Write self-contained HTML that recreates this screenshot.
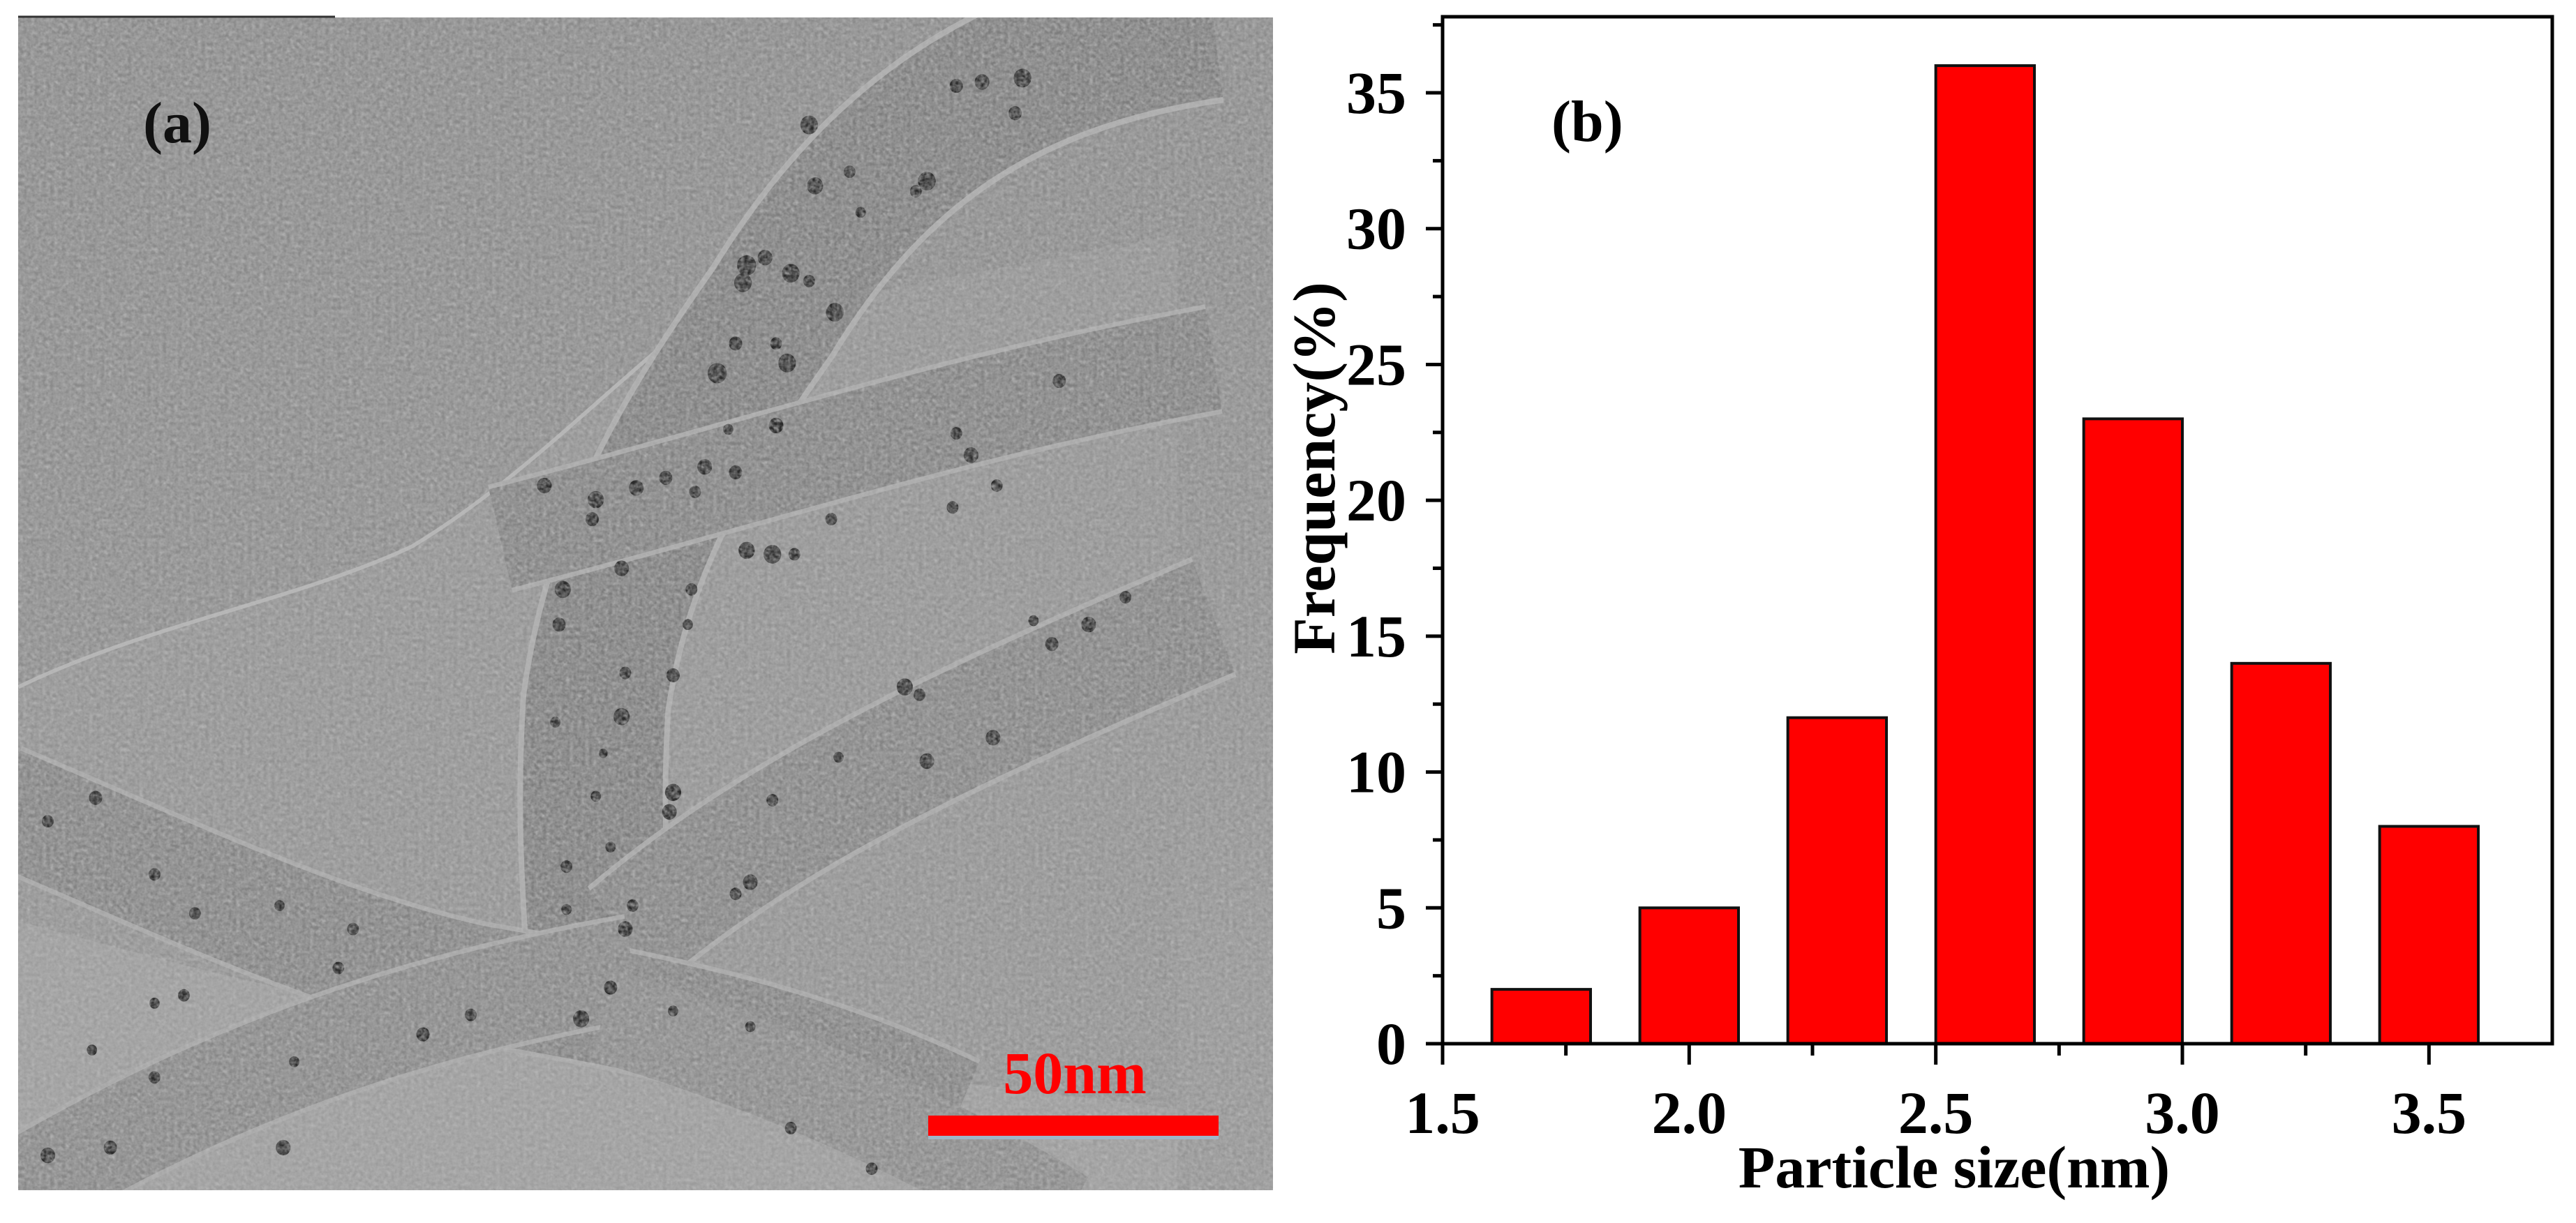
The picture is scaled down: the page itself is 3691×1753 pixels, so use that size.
<!DOCTYPE html>
<html><head><meta charset="utf-8"><style>
html,body{margin:0;padding:0;background:#fff;}
svg{display:block;font-family:"Liberation Serif",serif;}
</style></head><body>
<svg id="fig" width="3691" height="1753" viewBox="0 0 3691 1753" xmlns="http://www.w3.org/2000/svg">
<defs>
<clipPath id="panelclip"><rect x="26" y="25" width="1798" height="1681"/></clipPath>
<filter id="noise" x="0" y="0" width="100%" height="100%">
<feTurbulence type="fractalNoise" baseFrequency="0.18" numOctaves="2" seed="3"/>
<feColorMatrix type="matrix" values="0 0 0 0 0.5  0 0 0 0 0.5  0 0 0 0 0.5  0.6 0.6 0.6 0 -0.6"/>
</filter>
<linearGradient id="bg" x1="0" y1="0" x2="0.3" y2="1">
<stop offset="0" stop-color="#888"/><stop offset="0.5" stop-color="#8c8c8c"/><stop offset="1" stop-color="#959595"/>
</linearGradient>
</defs>

<!-- Panel (a): TEM image -->
<g clip-path="url(#panelclip)">
<rect x="26" y="25" width="1798" height="1681" fill="url(#bg)"/>
<g transform="scale(1.054,1.119)">
<path d="M25,880 C200,800 400,770 560,700 C700,620 800,520 930,420 L1600,300 L1600,1600 L25,1600 Z" fill="#929292"/>
<path d="M25,880 C200,800 400,770 560,700 C700,620 800,520 930,420" fill="none" stroke="#b4b4b4" stroke-width="5"/>
<path d="M25,1180 C300,1250 500,1300 800,1330 L1600,1420 L1600,1600 L25,1600 Z" fill="#9c9c9c"/>
<g fill="none" stroke-linecap="butt" stroke-linejoin="round">
<path d="M1650,30 C1350,70 1180,200 1050,400 C930,560 840,700 810,900 C800,1050 810,1150 820,1300" stroke="#ababab" stroke-width="205"/>
<path d="M1650,30 C1350,70 1180,200 1050,400 C930,560 840,700 810,900 C800,1050 810,1150 820,1300" stroke="#7d7d7d" stroke-width="190"/>
<path d="M1650,460 C1300,520 1050,600 680,690" stroke="#a8a8a8" stroke-width="142"/>
<path d="M1650,460 C1300,520 1050,600 680,690" stroke="#818181" stroke-width="130"/>
<path d="M1650,790 C1300,930 1050,1040 850,1200" stroke="#a8a8a8" stroke-width="165"/>
<path d="M1650,790 C1300,930 1050,1040 850,1200" stroke="#848484" stroke-width="152"/>
<path d="M0,1030 C250,1130 450,1220 650,1260 C900,1300 1100,1340 1300,1430" stroke="#a6a6a6" stroke-width="160"/>
<path d="M0,1030 C250,1130 450,1220 650,1260 C900,1300 1100,1340 1300,1430" stroke="#838383" stroke-width="148"/>
<path d="M0,1540 C250,1400 500,1300 860,1240" stroke="#a6a6a6" stroke-width="140"/>
<path d="M0,1540 C250,1400 500,1300 860,1240" stroke="#878787" stroke-width="128"/>
<path d="M820,1300 C1000,1350 1200,1420 1450,1560" stroke="#8a8a8a" stroke-width="120"/>
</g>
<g fill="#2a2a2a">
<circle cx="1100" cy="160" r="12"/><circle cx="1300" cy="110" r="9"/><circle cx="1335" cy="105" r="10"/><circle cx="1390" cy="100" r="12"/><circle cx="1380" cy="145" r="9"/>
<circle cx="1108" cy="238" r="11"/><circle cx="1155" cy="220" r="8"/><circle cx="1260" cy="232" r="12"/><circle cx="1245" cy="245" r="8"/><circle cx="1170" cy="272" r="7"/>
<circle cx="1015" cy="340" r="13"/><circle cx="1040" cy="330" r="10"/><circle cx="1075" cy="350" r="12"/><circle cx="1010" cy="362" r="12"/><circle cx="1135" cy="400" r="12"/><circle cx="1100" cy="360" r="8"/>
<circle cx="975" cy="478" r="13"/><circle cx="1000" cy="440" r="9"/><circle cx="1070" cy="465" r="12"/><circle cx="1055" cy="440" r="8"/><circle cx="1055" cy="545" r="10"/><circle cx="990" cy="550" r="7"/>
<circle cx="740" cy="622" r="10"/><circle cx="810" cy="640" r="11"/><circle cx="865" cy="625" r="10"/><circle cx="905" cy="612" r="9"/><circle cx="958" cy="598" r="10"/><circle cx="1000" cy="605" r="9"/><circle cx="945" cy="630" r="8"/>
<circle cx="805" cy="665" r="9"/><circle cx="845" cy="728" r="10"/><circle cx="1015" cy="705" r="11"/><circle cx="1050" cy="710" r="12"/><circle cx="1080" cy="710" r="8"/><circle cx="1130" cy="665" r="8"/>
<circle cx="1300" cy="555" r="8"/><circle cx="1320" cy="583" r="10"/><circle cx="1355" cy="622" r="8"/><circle cx="1295" cy="650" r="8"/><circle cx="1440" cy="488" r="9"/>
<circle cx="765" cy="755" r="11"/><circle cx="760" cy="800" r="9"/><circle cx="940" cy="755" r="8"/><circle cx="935" cy="800" r="7"/><circle cx="915" cy="865" r="9"/><circle cx="850" cy="862" r="8"/>
<circle cx="845" cy="918" r="11"/><circle cx="755" cy="925" r="7"/><circle cx="820" cy="965" r="6"/><circle cx="915" cy="1015" r="11"/><circle cx="910" cy="1040" r="10"/><circle cx="810" cy="1020" r="7"/>
<circle cx="770" cy="1110" r="8"/><circle cx="830" cy="1085" r="7"/><circle cx="860" cy="1160" r="8"/><circle cx="850" cy="1190" r="10"/><circle cx="770" cy="1165" r="7"/>
<circle cx="1230" cy="880" r="11"/><circle cx="1250" cy="890" r="8"/><circle cx="1260" cy="975" r="10"/><circle cx="1350" cy="945" r="10"/><circle cx="1140" cy="970" r="7"/><circle cx="1050" cy="1025" r="8"/><circle cx="1020" cy="1130" r="10"/><circle cx="1000" cy="1145" r="8"/>
<circle cx="1430" cy="825" r="9"/><circle cx="1480" cy="800" r="10"/><circle cx="1530" cy="765" r="8"/><circle cx="1405" cy="795" r="7"/>
<circle cx="130" cy="1022" r="9"/><circle cx="65" cy="1052" r="8"/><circle cx="210" cy="1120" r="8"/><circle cx="265" cy="1170" r="8"/><circle cx="380" cy="1160" r="7"/><circle cx="480" cy="1190" r="8"/>
<circle cx="460" cy="1240" r="8"/><circle cx="575" cy="1325" r="9"/><circle cx="640" cy="1300" r="8"/><circle cx="790" cy="1305" r="11"/><circle cx="830" cy="1265" r="9"/><circle cx="915" cy="1295" r="7"/>
<circle cx="250" cy="1275" r="8"/><circle cx="210" cy="1285" r="7"/><circle cx="125" cy="1345" r="7"/><circle cx="210" cy="1380" r="8"/><circle cx="150" cy="1470" r="9"/><circle cx="65" cy="1480" r="10"/><circle cx="385" cy="1470" r="10"/><circle cx="400" cy="1360" r="7"/>
<circle cx="1075" cy="1445" r="8"/><circle cx="1185" cy="1497" r="8"/><circle cx="1020" cy="1315" r="7"/>
</g>
</g>
<rect x="26" y="25" width="1798" height="1681" filter="url(#noise)"/>
</g>
<line x1="26" y1="24" x2="480" y2="24" stroke="#333" stroke-width="3"/>
<text x="205" y="204" font-size="84" font-weight="bold" fill="#111">(a)</text>
<text x="1540" y="1567" font-size="86" font-weight="bold" fill="#ff0000" text-anchor="middle">50nm</text>
<rect x="1330" y="1599" width="416" height="29" fill="#ff0000"/>
<rect x="1330" y="1628" width="416" height="5" fill="#9fb6c8"/>

<!-- Panel (b): histogram -->
<g id="chart"></g>
</svg>
<script>
var categories = [1.7, 2.0, 2.3, 2.6, 2.9, 3.2, 3.5];
var frequencies = [2, 5, 12, 36, 23, 14, 8];
var barWidthUnits = 0.2;
var xTickValues = [1.5, 2.0, 2.5, 3.0, 3.5];
var xTickLabels = ["1.5", "2.0", "2.5", "3.0", "3.5"];
var yTickValues = [0, 5, 10, 15, 20, 25, 30, 35];
var yTickLabels = ["0", "5", "10", "15", "20", "25", "30", "35"];

var NS = "http://www.w3.org/2000/svg";
var L = 2067, R = 3657, T = 24, B = 1496;
var xMin = 1.5, xMax = 3.75, yMin = 0, yMax = 37.8;
function xs(v){ return L + (v - xMin) / (xMax - xMin) * (R - L); }
function ys(v){ return B - (v - yMin) / (yMax - yMin) * (B - T); }
var g = document.getElementById('chart');
function mk(tag, attrs){ var e = document.createElementNS(NS, tag); for (var k in attrs) e.setAttribute(k, attrs[k]); g.appendChild(e); return e; }

for (var i = 0; i < categories.length; i++) {
  var x0 = xs(categories[i] - barWidthUnits / 2), x1 = xs(categories[i] + barWidthUnits / 2);
  var y0 = ys(frequencies[i]);
  var bar = mk('rect', {x: x0, y: y0, width: x1 - x0, height: B - y0, fill: '#ff0000', stroke: '#111', 'stroke-width': 4});
  
  
}
var frame = mk('rect', {x: L, y: T, width: R - L, height: B - T, fill: 'none', stroke: '#000', 'stroke-width': 5});



for (var i = 0; i < yTickValues.length; i++) {
  var y = ys(yTickValues[i]);
  var t = mk('line', {x1: L - 24, y1: y, x2: L, y2: y, stroke: '#000', 'stroke-width': 5});
  
  
  var lb = mk('text', {x: L - 52, y: y + 29, 'font-size': 86, 'font-weight': 'bold', 'text-anchor': 'end', fill: '#000'});
  lb.textContent = yTickLabels[i];
  
  
  var ym = ys(yTickValues[i] + 2.5);
  if (ym > T) {
    var mt = mk('line', {x1: L - 14, y1: ym, x2: L, y2: ym, stroke: '#000', 'stroke-width': 5});
    
    
  }
}
for (var i = 0; i < xTickValues.length; i++) {
  var x = xs(xTickValues[i]);
  var t = mk('line', {x1: x, y1: B, x2: x, y2: B + 30, stroke: '#000', 'stroke-width': 5});
  
  
  var lb = mk('text', {x: x, y: 1624, 'font-size': 86, 'font-weight': 'bold', 'text-anchor': 'middle', fill: '#000'});
  lb.textContent = xTickLabels[i];
  
  
  var xm = xs(xTickValues[i] + 0.25);
  if (xm < R) {
    var mt = mk('line', {x1: xm, y1: B, x2: xm, y2: B + 17, stroke: '#000', 'stroke-width': 5});
    
    
  }
}
var xt = mk('text', {x: 2800, y: 1702, 'font-size': 86, 'font-weight': 'bold', 'text-anchor': 'middle', fill: '#000'});
xt.textContent = 'Particle size(nm)';


var yt = mk('text', {x: 0, y: 0, 'font-size': 86, 'font-weight': 'bold', 'text-anchor': 'middle', fill: '#000', transform: 'translate(1912,671) rotate(-90)'});
yt.textContent = 'Frequency(%)';


var pb = mk('text', {x: 2223, y: 202, 'font-size': 84, 'font-weight': 'bold', fill: '#000'});
pb.textContent = '(b)';


</script>
</body></html>
